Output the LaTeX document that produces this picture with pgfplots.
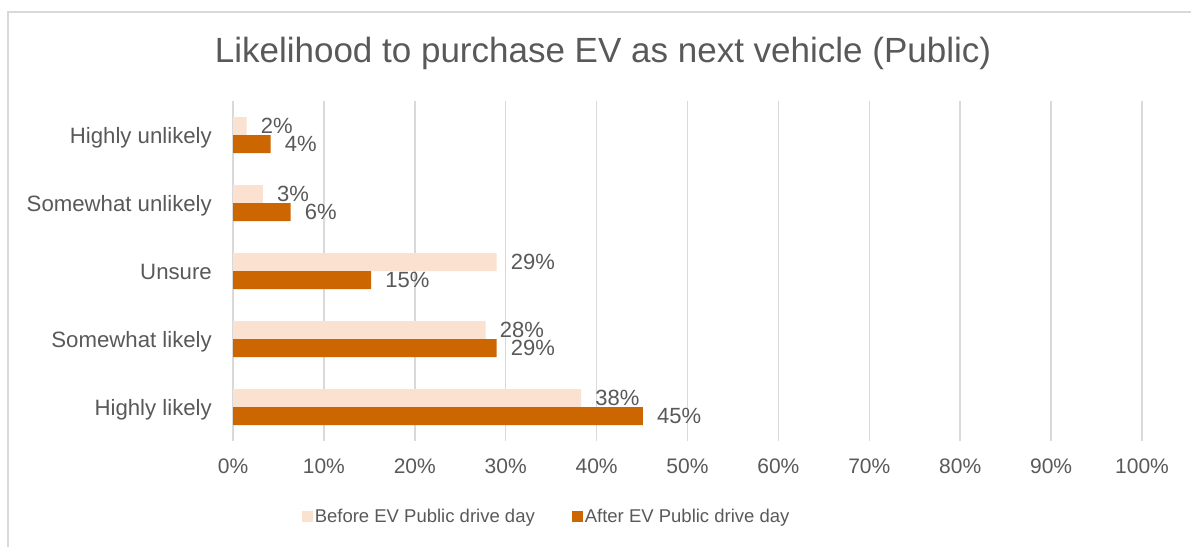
\documentclass[border=0pt]{standalone}
\usepackage{pgfplots}
\pgfplotsset{compat=1.18}
\usepackage{fontspec}
\setmainfont{Liberation Sans}
\definecolor{txt}{HTML}{595959}
\definecolor{gridc}{HTML}{D9D9D9}
\definecolor{beforec}{HTML}{FBE2D0}
\definecolor{afterc}{HTML}{CC6600}
\begin{document}
\begin{tikzpicture}[x=1pt,y=1pt]
\useasboundingbox (0,0) rectangle (1191,546);
\draw[gridc, line width=1.5pt] (8,-3) -- (8,534) -- (1195,534);
\node[anchor=base, text=txt, font=\fontsize{35}{40}\selectfont, inner sep=0pt] at (603,483) {Likelihood to purchase EV as next vehicle (Public)};
\begin{axis}[
  at={(233pt,105pt)}, anchor=south west,
  scale only axis, width=909pt, height=340pt,
  xmin=0, xmax=100, ymin=-0.5, ymax=4.5, y dir=reverse,
  xtick={0,10,...,100},
  /pgf/number format/assume math mode=true,
  xticklabel={\pgfmathprintnumber{\tick}\%},
  ytick={0,1,2,3,4},
  yticklabels={Highly unlikely, Somewhat unlikely, Unsure, Somewhat likely, Highly likely},
  axis line style={draw=none},
  major tick length=0pt,
  xmajorgrids, grid style={gridc, line width=1.5pt},
  x tick label style={text=txt, font=\fontsize{21}{24}\selectfont, anchor=north, inner sep=0pt, yshift=-18pt},
  y tick label style={text=txt, font=\fontsize{22.2}{26}\selectfont, anchor=base east, inner sep=0pt, xshift=-21pt, yshift=-8pt},
  xbar, bar width=18pt,
  point meta=explicit symbolic,
  nodes near coords,
  every node near coord/.append style={anchor=west, inner sep=0pt, xshift=14pt, text=txt, font=\fontsize{22}{26}\selectfont},
  legend style={at={(0.345,-0.2235)}, anchor=center, draw=none, fill=none,
    legend columns=2, text=txt, font=\fontsize{18.5}{22}\selectfont,
    /tikz/every even column/.append style={column sep=35pt},
    inner sep=0pt, cells={anchor=west}},
  legend cell align=left,
  legend image code/.code={\fill[#1, draw=none] (0pt,-5.5pt) rectangle (11pt,5.5pt);},
  clip=false,
]
\addplot[fill=beforec, draw=none, bar shift=9pt] coordinates {
  (1.5,0) [2\%]
  (3.3,1) [3\%]
  (29.0,2) [29\%]
  (27.8,3) [28\%]
  (38.3,4) [38\%]
};
\addplot[fill=afterc, draw=none, bar shift=-9pt] coordinates {
  (4.15,0) [4\%]
  (6.35,1) [6\%]
  (15.2,2) [15\%]
  (29.0,3) [29\%]
  (45.1,4) [45\%]
};
\legend{Before EV Public drive day, After EV Public drive day}
\end{axis}
\end{tikzpicture}
\end{document}
